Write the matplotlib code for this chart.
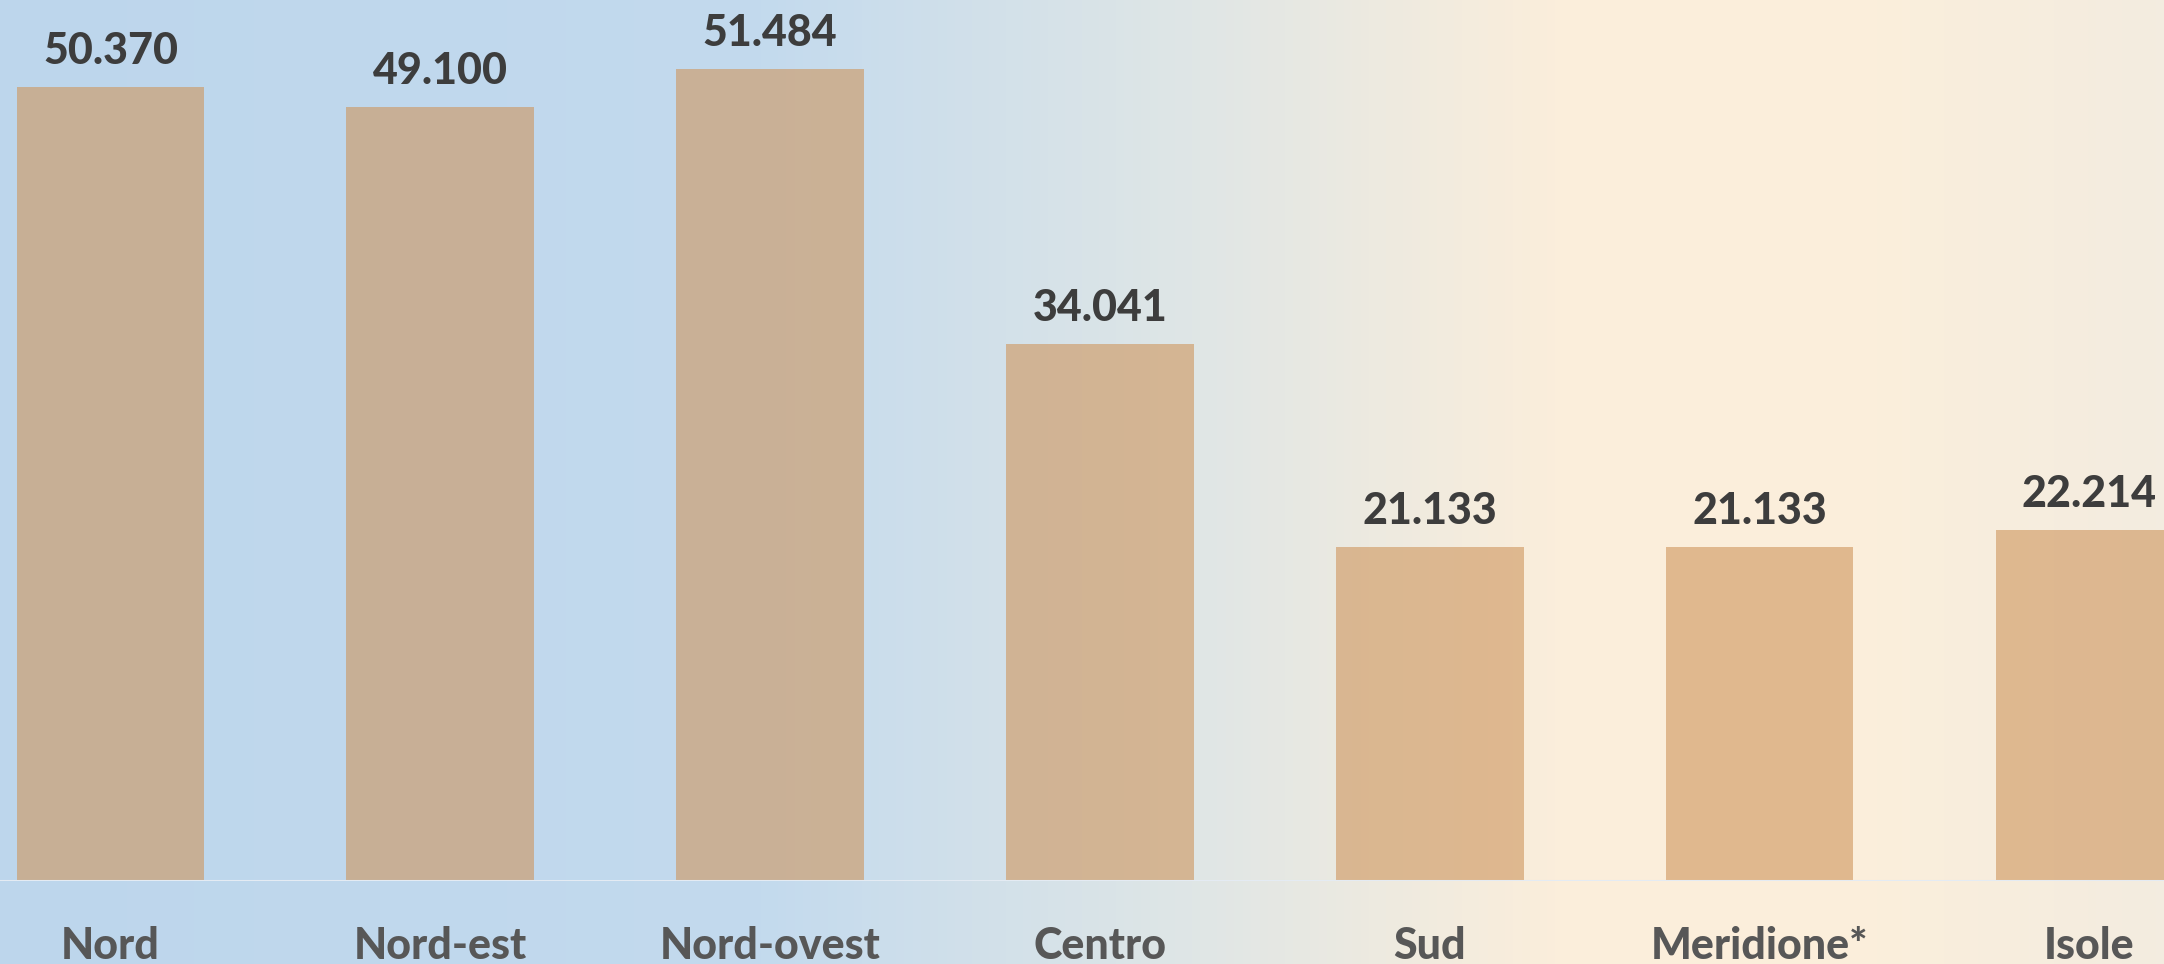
import numpy as np
import matplotlib; matplotlib.use("Agg")
import matplotlib.pyplot as plt
from matplotlib.colors import LinearSegmentedColormap

# dati
aree   = ["Nord", "Nord-est", "Nord-ovest", "Centro", "Sud", "Meridione*", "Isole"]
valori = [50.370, 49.100, 51.484, 34.041, 21.133, 21.133, 22.214]
etichette = ["50.370", "49.100", "51.484", "34.041", "21.133", "21.133", "22.214"]

BAR_COL   = "#CE955C"
VAL_COL   = "#3d3d3d"
CAT_COL   = "#575757"
FONT      = ["Lato", "DejaVu Sans"]

fig = plt.figure(figsize=(21.64, 9.64), dpi=100)

# sfondo: sfumatura azzurro -> crema
bg = fig.add_axes([0, 0, 1, 1], zorder=0)
bg_cmap = LinearSegmentedColormap.from_list(
    "bg", [(0.0, "#bdd6ec"), (0.35, "#c3daee"), (0.55, "#dfe6e6"),
           (0.72, "#fbeedb"), (0.85, "#fcefdb"), (1.0, "#f3ece0")])
grad = np.linspace(0, 1, 512).reshape(1, -1)
bg.imshow(grad, aspect="auto", cmap=bg_cmap, extent=[0, 1, 0, 1])
bg.set_axis_off()

ax = fig.add_axes([0, 0.0866, 1, 0.9134], zorder=1)
ax.patch.set_alpha(0)
x = np.arange(len(aree))
ax.bar(x, valori, width=0.569, color=BAR_COL, alpha=0.6, zorder=2)
ax.set_xlim(-0.335, 6.226)
ax.set_ylim(0, 55.87)

for xi, v, lab in zip(x, valori, etichette):
    ax.annotate(lab, (xi, v), xytext=(0, 26), textcoords="offset points",
                ha="center", va="center", fontsize=31, fontweight="black",
                color=VAL_COL, family=FONT, annotation_clip=False)

ax.axhline(0, color="#e4ebf3", lw=2.2, zorder=3)
ax.set_xticks(x)
ax.set_xticklabels(aree, fontsize=31, fontweight="black", color=CAT_COL, family=FONT)
ax.tick_params(axis="x", length=0, pad=33)
ax.set_yticks([])
for s in ax.spines.values():
    s.set_visible(False)

fig.savefig("out.png", dpi=100)
